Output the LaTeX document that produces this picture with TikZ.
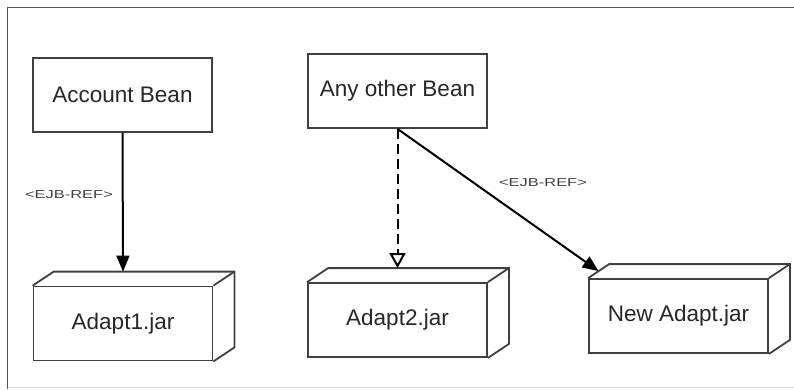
\documentclass[tikz,border=0pt]{standalone}
\usepackage{fontspec}
\setmainfont{Liberation Sans}
\usetikzlibrary{arrows.meta}
\definecolor{boxgray}{HTML}{404040}
\definecolor{framegray}{HTML}{555555}
\definecolor{lightframe}{HTML}{DCDCDC}
\newcommand{\ejbref}{\scalebox{1.43}[1]{<EJB-REF>}}
\begin{document}
\begin{tikzpicture}[x=1pt,y=-1pt,
  bean/.style={draw=boxgray,line width=1.8pt,minimum width=179pt,minimum height=74pt,inner sep=0pt,font=\fontsize{22.5}{26}\selectfont,text=black!85},
  jar/.style={bean},
  face/.style={draw=boxgray,line width=1.8pt,line join=miter},
  lab/.style={font=\fontsize{11.5}{13}\selectfont,text=black!75,inner sep=0pt},
  conn/.style={draw=black,line width=2pt}]
\useasboundingbox (0,0) rectangle (794,389);
% frame
\draw[lightframe,line width=1pt] (7.5,387.5) -- (794,387.5);
\draw[framegray,line width=1.8pt] (7.5,389) -- (7.5,7.5) -- (794,7.5);
% beans
\node[bean] (acct) at (122.5,95) {Account Bean};
\node[bean] (other) at (397.5,91) {Any other Bean};
% jars
\node[jar] (a1) at (123,323.5) {Adapt1.jar};
\node[jar] (a2) at (397.5,320) {Adapt2.jar};
\node[jar] (na) at (678.5,316) {New Adapt.jar};
\foreach \n in {a1,a2,na}{
  \draw[face] (\n.north west) -- ++(21,-14) -- ([shift={(21pt,14pt)}]\n.north east) -- ([shift={(21pt,14pt)}]\n.south east) -- (\n.south east);
  \draw[face] (\n.north east) -- ([shift={(21pt,14pt)}]\n.north east);
}
\coordinate (a1top) at ([yshift=14pt]a1.north);
\coordinate (a2top) at ([yshift=14pt]a2.north);
\coordinate (natop) at ([shift={(10.5pt,7pt)}]na.north west);
% connectors
\draw[conn,-{Triangle[length=16pt,width=13pt]}] (acct.south) -- (a1top);
\draw[conn,dash pattern=on 10pt off 5pt,-{Triangle[open,length=15pt,width=16pt]}] (other.south) -- (a2top);
\draw[conn,-{Triangle[length=16pt,width=13pt]}] (other.south) -- (natop);
% labels
\node[lab] (l1) at (69,195) {\ejbref};
\node[lab] (l2) at (543,183) {\ejbref};
\end{tikzpicture}
\end{document}
